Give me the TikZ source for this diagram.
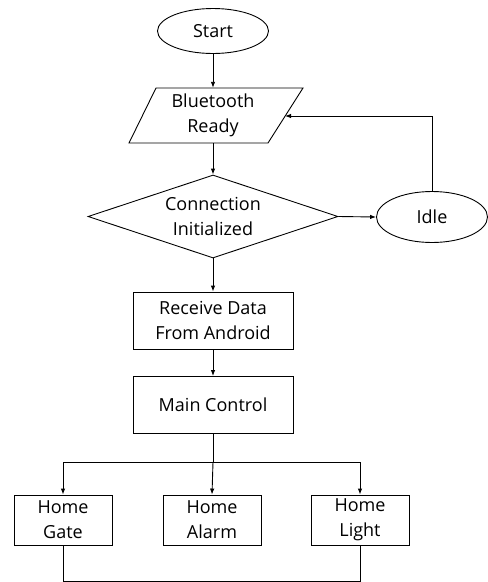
\documentclass[tikz,border=0pt]{standalone}
\usepackage{fontspec}
\setmainfont{Open Sans}
\usetikzlibrary{shapes.geometric,arrows.meta}
\begin{document}
\begin{tikzpicture}[x=1pt,y=-1pt,
  every node/.style={font=\fontsize{18}{25}\selectfont, align=center, inner sep=0pt},
  box/.style={draw, line width=0.9pt, minimum width=160pt, minimum height=57pt},
  sbox/.style={draw, line width=0.9pt, minimum width=98pt, minimum height=50pt},
  oval/.style={draw, ellipse, line width=0.9pt},
  arr/.style={line width=0.9pt, -{Latex[length=6pt,width=4.5pt]}},
  ln/.style={line width=0.9pt}]
\useasboundingbox (0,0) rectangle (488,582);
\node[oval, minimum width=111pt, minimum height=45pt] (start) at (213,31) {Start};
\node[minimum width=140pt, minimum height=55pt] (bt) at (213,115.5) {Bluetooth\\Ready};
\draw[ln] (156,88) -- (303,88) -- (268,143) -- (129,143) -- cycle;
\coordinate (btin) at (285,116);
\node[draw, diamond, aspect=3, line width=0.9pt, minimum width=250pt, minimum height=83pt] (dia) at (213,216.5) {Connection\\Initialized};
\node[oval, minimum width=111pt, minimum height=51pt] (idle) at (432,217) {Idle};
\node[box] (recv) at (213,320.5) {Receive Data\\From Android};
\node[box] (main) at (213,405) {Main Control};
\node[sbox] (gate) at (63,520) {Home\\Gate};
\node[sbox] (alarm) at (212,520) {Home\\Alarm};
\node[sbox] (light) at (360,520) {Home\\Light};
\coordinate (br) at (213,462);
\draw[arr] (start.south) -- (bt.north);
\draw[arr] (bt.south) -- (dia.north);
\draw[arr] (dia.east) -- (idle.west);
\draw[arr] (idle.north) |- (btin);
\draw[arr] (dia.south) -- (recv.north);
\draw[arr] (recv.south) -- (main.north);
\draw[ln] (main.south) -- (br);
\draw[arr] (br) -- (alarm.north);
\draw[arr] (br) -| (gate.north);
\draw[arr] (br) -| (light.north);
\draw[ln] (gate.south) -- ++(0,36) -| (light.south);
\end{tikzpicture}
\end{document}
